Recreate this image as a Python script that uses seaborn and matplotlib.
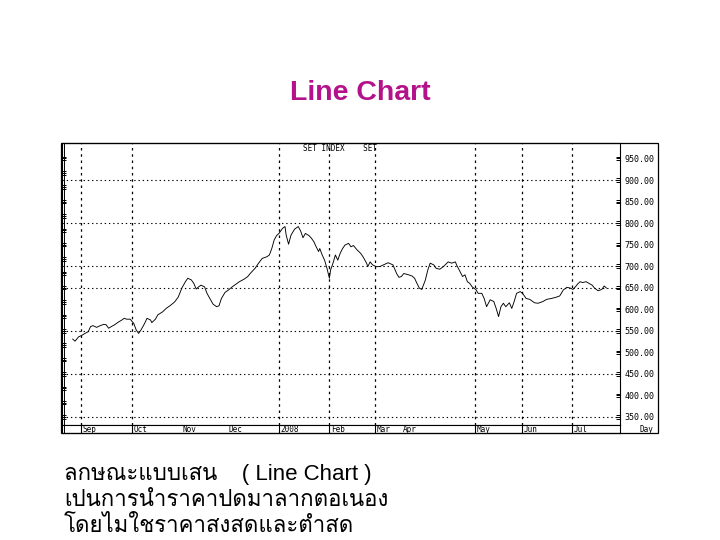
import numpy as np
import pandas as pd
import matplotlib
matplotlib.use('Agg')
import matplotlib.pyplot as plt
import seaborn as sns

# SET index close (x = trading days from start of Sep 2007)
days = [-3.5, -2.5, -1, 0.5, 2, 3, 4, 5, 6.5, 8, 9.5, 10.5, 11.5, 13, 14, 15.5, 17, 18, 19, 20.5,
        22, 23, 24, 25, 26.5, 27.5, 29, 29.5, 31, 32, 34, 35.5, 37.5, 39, 40.5, 42, 43.5, 44.5, 46, 47,
        48, 49, 50, 51.5, 52.5, 54, 55, 56.5, 57.5, 58.5, 60, 61.5, 63, 64, 66, 68, 69.5, 70.5, 72.5, 74,
        75.5, 77.5, 78.5, 79.5, 80.5, 81.5, 82.5, 84, 85, 85.5, 86.5, 87.5, 89, 90.5, 91.5, 92.5, 93.5, 95,
        96, 97, 98, 99, 99.5, 100.5, 101.5, 102.5, 103.5, 104, 105, 106, 107, 108, 109, 110, 111.5, 112.5,
        113.5, 115, 116.5, 117.5, 119, 119.5, 120.5, 121.5, 123, 124.5, 126, 128, 130, 131.5, 132.5, 133.5,
        134.5, 136.5, 138, 139, 140, 141, 142, 143.5, 144.5, 145.5, 147, 148, 149.5, 151, 153, 154.5, 156,
        156.5, 158, 159, 160, 161, 162, 163, 164.5, 165.5, 167, 168, 169, 170.5, 172, 173, 174, 175, 176,
        177, 178.5, 179.5, 180.5, 181.5, 183, 184, 185.5, 187, 189, 190.5, 192.5, 194, 196, 198, 199.5,
        201, 202.5, 204, 205, 206, 207, 208, 209, 210.5, 212, 213, 214, 215.5, 217, 218, 219]
close = [531, 526, 536, 540, 545, 548, 560, 562, 558, 562, 565, 564, 556, 561, 564, 570, 575, 579, 577, 577,
         567, 552, 544, 552, 567, 579, 575, 569, 577, 587, 594, 602, 610, 617, 628, 649, 664, 672, 668, 660,
         647, 652, 656, 652, 637, 622, 612, 606, 608, 625, 639, 645, 652, 656, 664, 670, 676, 683, 695, 707,
         718, 722, 726, 741, 761, 771, 776, 788, 792, 772, 751, 772, 786, 792, 782, 766, 776, 771,
         765, 757, 745, 734, 741, 726, 714, 695, 672, 691, 707, 726, 714, 730, 741, 749, 753, 745,
         748, 738, 730, 722, 707, 699, 710, 703, 699, 699, 703, 708, 703, 683, 674, 676,
         683, 680, 677, 672, 660, 649, 646, 668, 691, 707, 703, 695, 693, 699, 710, 707, 710,
         703, 687, 676, 680, 664, 660, 652, 646, 637, 637, 625, 606, 622, 618, 602, 583, 606, 614,
         606, 615, 602, 618, 637, 641, 637, 625, 623, 615, 614, 618, 623, 625, 628, 631,
         645, 651, 649, 646, 652, 659, 664, 662, 664, 659, 656, 649, 643, 646, 654, 649]

month_labels = ['Sep', 'Oct', 'Nov', 'Dec', '2008', 'Feb', 'Mar', 'Apr', 'May', 'Jun', 'Jul']
month_label_pos = [0.8, 22.1, 42.5, 61.3, 83.3, 104.2, 123.3, 134.2, 165, 184.6, 205.4]
month_lines = [0, 21.25, 82.5, 103.3, 122.5, 164.2, 183.75, 204.6]
grid_levels = [900, 800, 700, 650, 550, 450, 350]
price_ticks = [950, 900, 850, 800, 750, 700, 650, 600, 550, 500, 450, 400, 350]

thai_lines = ['ลกษณะแบบเสน    ( Line Chart )',
              'เปนการนำราคาปดมาลากตอเนอง',
              'โดยไมใชราคาสงสดและตำสด']

sns.set_style('white')
plt.rcParams['font.family'] = ['Liberation Sans', 'DejaVu Sans']
plt.rcParams['text.color'] = 'black'
plt.rcParams['ytick.color'] = 'black'
plt.rcParams['ytick.labelcolor'] = 'black'

fig = plt.figure(figsize=(7.2, 5.4), dpi=100)
W, H = 720, 540


def fx(px):
    return px / W


def fy(py):
    return 1 - py / H


xlim = (-7.92, 224.6)
ylim = (331.4, 985.9)

ax = fig.add_axes([fx(62), fy(425), fx(620) - fx(62), fy(143) - fy(425)])
df = pd.DataFrame({'day': days, 'close': close})
sns.lineplot(data=df, x='day', y='close', ax=ax, color='black', linewidth=0.65)
ax.set_xlim(*xlim)
ax.set_ylim(*ylim)
ax.set_xlabel('')
ax.set_ylabel('')
ax.set_xticks([])

for lv in grid_levels:
    ax.axhline(lv, color='black', lw=0.8, ls=(0, (1.2, 2.6)), zorder=1)
for d in month_lines:
    ax.axvline(d, color='black', lw=0.9, ls=(0, (2, 3)), zorder=1)

# left comb ticks
centers = 350 + np.arange(19) * 100 / 3
left_ticks = np.sort(np.concatenate([centers - 4, centers, centers + 4]))
ax.set_yticks(left_ticks)
ax.tick_params(axis='y', which='major', left=True, right=False, labelleft=False,
               direction='in', length=3, width=0.7, color='black')
for s in ax.spines.values():
    s.set_color('black')
    s.set_linewidth(0.8)

ax2 = ax.twinx()
ax2.set_ylim(*ylim)
ax2.set_yticks(price_ticks)
ax2.set_yticklabels([f'{v:.2f}' for v in price_ticks])
ax2.set_yticks([v + d for v in price_ticks for d in (-4, 4)], minor=True)
ax2.tick_params(axis='y', which='both', direction='in', length=3, width=0.7, pad=3,
                labelsize=6, color='black', labelcolor='black')
for lab in ax2.get_yticklabels():
    lab.set_family('DejaVu Sans Mono')
for s in ax2.spines.values():
    s.set_visible(False)

ax.text(fx(303), fy(148), 'SET INDEX    SET', transform=fig.transFigure, fontsize=5.5,
        family='DejaVu Sans Mono', va='center', ha='left')

# month strip under the plot
strip = fig.add_axes([fx(62), fy(433), fx(620) - fx(62), fy(425) - fy(433)])
strip.set_xlim(*xlim)
strip.set_ylim(0, 1)
strip.set_xticks([])
strip.set_yticks([])
for s in strip.spines.values():
    s.set_linewidth(0.8)
    s.set_color('black')
for d in month_lines:
    strip.axvline(d, color='black', lw=0.8)
for lab, d in zip(month_labels, month_label_pos):
    strip.text(d, 0.45, lab, fontsize=5.5, family='DejaVu Sans Mono', va='center', ha='left')
strip.text(fx(640), fy(429), 'Day', transform=fig.transFigure, fontsize=5.5,
           family='DejaVu Sans Mono', va='center', ha='left')

# outer frame
fig.add_artist(plt.Rectangle((fx(61), fy(433)), fx(658) - fx(61), fy(143) - fy(433),
                             transform=fig.transFigure, fill=False, lw=0.9, color='black'))
fig.add_artist(plt.Line2D([fx(63.5), fx(63.5)], [fy(433), fy(143)],
                          transform=fig.transFigure, lw=0.7, color='black'))

fig.text(0.5, fy(93), 'Line Chart', ha='center', va='center', fontsize=20.5,
         fontweight='bold', color='#B3128A')

for line, base in zip(thai_lines, [480, 506, 532]):
    fig.text(fx(64), fy(base), line, ha='left', va='baseline', fontsize=16, color='black',
             family=['Liberation Sans', 'Loma', 'DejaVu Sans'])

fig.savefig('out.png', dpi=100)
